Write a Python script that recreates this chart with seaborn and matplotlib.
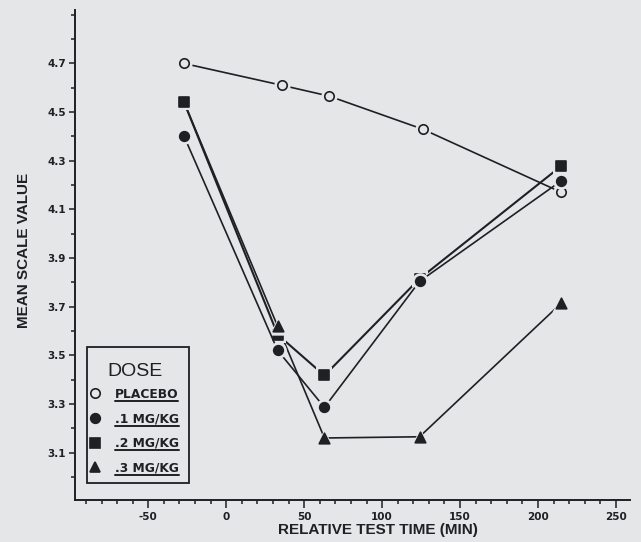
import numpy as np
import pandas as pd
import matplotlib
matplotlib.use("Agg")
import matplotlib.pyplot as plt
from matplotlib.lines import Line2D
from matplotlib.patches import Rectangle
from matplotlib.transforms import IdentityTransform
from matplotlib.ticker import MultipleLocator
import seaborn as sns

# Dose groups and their mean scale values over relative test time (min)
dose_labels = ["PLACEBO", ".1 MG/KG", ".2 MG/KG", ".3 MG/KG"]
time_placebo = [-27, 36, 66, 126, 215]
time_drug = [-27, 33, 63, 124, 215]
placebo = [4.70, 4.61, 4.566, 4.43, 4.17]
dose_01 = [4.40, 3.52, 3.286, 3.804, 4.218]
dose_02 = [4.54, 3.585, 3.417, 3.815, 4.279]
dose_03 = [4.54, 3.619, 3.16, 3.165, 3.715]
x_ticks = [-50, 0, 50, 100, 150, 200, 250]
y_ticks = [3.1, 3.3, 3.5, 3.7, 3.9, 4.1, 4.3, 4.5, 4.7]

BG = "#e4e6e7"
INK = "#1f1f24"
TICK_FONT = dict(family=["DejaVu Sans"], weight="bold", size=7.5)

sns.set_theme(style="ticks")
plt.rcParams["font.family"] = ["Liberation Sans", "DejaVu Sans"]

frames = []
for lab, xs, ys in [(dose_labels[0], time_placebo, placebo),
                    (dose_labels[1], time_drug, dose_01),
                    (dose_labels[2], time_drug, dose_02),
                    (dose_labels[3], time_drug, dose_03)]:
    frames.append(pd.DataFrame({"dose": lab, "time": xs, "value": ys}))
df = pd.concat(frames, ignore_index=True)

fig = plt.figure(figsize=(6.41, 5.42), dpi=100, facecolor=BG)
ax = fig.add_axes([75 / 641, 1 - 500 / 542, 555 / 641, 490 / 542])
ax.set_facecolor(BG)

# marker, face colour, marker area, line width, z-order
styles = {
    dose_labels[0]: ("o", BG, 46, 1.2, 5),
    dose_labels[2]: ("s", INK, 46, 1.5, 6),
    dose_labels[3]: ("^", INK, 58, 1.2, 7),
    dose_labels[1]: ("o", INK, 48, 1.2, 8),
}

for lab, (m, fc, s, lw, z) in styles.items():
    sub = df[df["dose"] == lab]
    # the highest dose starts from the same baseline point as .2 MG/KG,
    # so its first symbol stays beneath the square
    if lab == dose_labels[3]:
        sns.lineplot(data=sub, x="time", y="value", color=INK, lw=lw,
                     ax=ax, zorder=z - 2, legend=False)
        pts = sub.iloc[1:]
    else:
        sns.lineplot(data=sub, x="time", y="value", color=INK, lw=lw,
                     ax=ax, zorder=z, legend=False)
        pts = sub
    # background-coloured halo so the lines stop short of the symbols
    sns.scatterplot(data=pts, x="time", y="value", marker=m, s=s * 3.0,
                    facecolor=BG, edgecolor=BG, linewidth=0, ax=ax,
                    zorder=z + 0.1, legend=False)
    sns.scatterplot(data=pts, x="time", y="value", marker=m, s=s,
                    facecolor=fc, edgecolor=INK, linewidth=1.2, ax=ax,
                    zorder=z + 0.2, legend=False)

ax.set_xlim(-97, 259)
ax.set_ylim(2.905, 4.92)
ax.set_xticks(x_ticks)
ax.set_xticklabels([str(v) for v in x_ticks], fontdict=TICK_FONT)
ax.set_yticks(y_ticks)
ax.set_yticklabels([f"{v:.1f}" for v in y_ticks], fontdict=TICK_FONT)
ax.xaxis.set_minor_locator(MultipleLocator(10))
ax.yaxis.set_minor_locator(MultipleLocator(0.1))

for side in ["top", "right"]:
    ax.spines[side].set_visible(False)
for side in ["left", "bottom"]:
    ax.spines[side].set_color(INK)
    ax.spines[side].set_linewidth(1.4)

ax.tick_params(axis="both", which="both", direction="out", color=INK,
               width=1.1, labelcolor=INK)
ax.tick_params(axis="x", which="major", length=6, pad=3)
ax.tick_params(axis="x", which="minor", length=3)
ax.tick_params(axis="y", which="major", length=4.5, pad=2)
ax.tick_params(axis="y", which="minor", length=3)

ax.set_xlabel("RELATIVE TEST TIME (MIN)", fontsize=11, fontweight="bold",
              color=INK)
ax.set_ylabel("MEAN SCALE VALUE", fontsize=11, fontweight="bold", color=INK)
ax.xaxis.set_label_coords(0.545, -0.047)
ax.yaxis.set_label_coords(-0.079, 0.51)

handles = []
for lab in dose_labels:
    m, fc, s, lw, z = styles[lab]
    handles.append(Line2D([], [], ls="none", marker=m, ms=np.sqrt(s),
                          mfc=fc, mec=INK, mew=1.2))
leg = ax.legend(handles, dose_labels, title="DOSE", loc="lower left",
                bbox_to_anchor=((89 - 75) / 555, (500 - 477) / 490),
                borderaxespad=0, frameon=False,
                prop=dict(family=["DejaVu Sans"], weight="bold", size=8.8),
                title_fontsize=14, handlelength=0.6, handletextpad=1.3,
                labelspacing=0.95, borderpad=0.2)
leg.get_title().set_color(INK)
for t in leg.get_texts():
    t.set_color(INK)
leg.set_zorder(20)
# tighter gap between the title and the first entry
leg._legend_box.sep = leg._legend_box.sep - 3

fig.canvas.draw()
renderer = fig.canvas.get_renderer()

# frame around the legend, with extra room above the title
lb = leg.get_window_extent(renderer)
fig.add_artist(Rectangle((lb.x0 - 2, lb.y0 - 6), lb.width + 10, lb.height + 20,
                         transform=IdentityTransform(), facecolor="none",
                         edgecolor=INK, lw=1.3, zorder=19))

# underline the legend entries
for t in leg.get_texts():
    bb = t.get_window_extent(renderer)
    y = bb.y0 - 0.5
    fig.add_artist(Line2D([bb.x0, bb.x1], [y, y], transform=IdentityTransform(),
                          color=INK, lw=1.4, zorder=30))

fig.savefig("out.png", dpi=100, facecolor=BG)
